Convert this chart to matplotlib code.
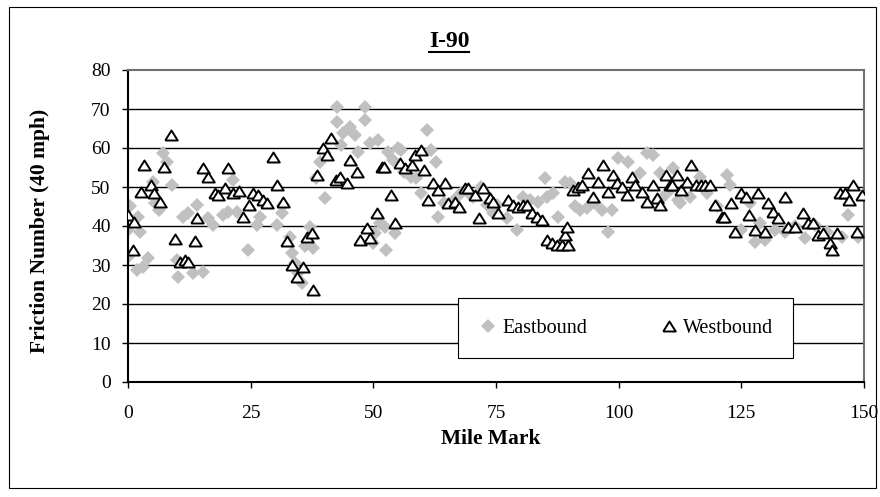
import matplotlib.pyplot as plt
from matplotlib.patches import Rectangle

# Eastbound (gray diamonds): mile mark, friction number
east_mile = [0, 0, 0.4, 1.8, 2, 2.4, 3, 4.1, 5.1, 5.5, 6.3, 7.1, 7.9, 9, 10, 10.2, 11.2, 12.2, 13.2, 14.1,
             15.3, 16.3, 17.3, 19.4, 20.4, 21.4, 22.2, 24.5, 26.3, 26.9, 30.4, 31.4, 31.6, 33, 33.4, 34, 34.6,
             35.5, 36.1, 37.1, 37.7, 38.3, 39.1, 40.1, 42.6, 42.6, 43.4, 43.8, 45.2, 46.3, 46.9, 48.3, 48.3,
             49.3, 49.9, 50.3, 50.9, 51.4, 52.4, 52.6, 53, 54, 54.4, 55, 55.6, 56.2, 57.7, 58.7, 59.7, 61,
             61.8, 62.8, 63.2, 64.4, 66.4, 67.9, 69.3, 70.3, 71.9, 73.2, 74.4, 75.2, 77.2, 79.3, 80.5, 81.9,
             83.6, 85, 85.4, 86.6, 87.6, 89.1, 90.1, 91.1, 92.1, 93.5, 95.2, 96.6, 97.8, 98.6, 99.9, 101.9,
             104.3, 105.8, 107, 108.5, 109, 110.5, 111, 112, 112.5, 114.5, 116.6, 118, 120, 122, 122.7, 125,
             126.7, 127.8, 128.8, 129.8, 131.9, 133.9, 136, 138, 140, 142.4, 145.5, 146.7, 148.8]
east_val = [32, 39, 45, 28.7, 42.3, 38.5, 29.5, 31.8, 51.3, 46, 44, 58.7, 56.4, 50.5, 31.3, 27, 42.3, 43.3, 28, 45.4,
            28.2, 42, 40.3, 42.8, 43.6, 51.8, 43.6, 33.8, 40.3, 42.3, 40.3, 43.3, 45.4, 37.2, 33, 30.5, 28,
            25.4, 35, 39.7, 34.4, 52.3, 56.4, 47.2, 70.4, 66.7, 60.8, 63.8, 65.4, 63.3, 59, 70.4, 67.2,
            61.3, 35.6, 38.2, 62, 40.8, 39.7, 33.8, 59, 56.9, 38.2, 60, 59.5, 53.8, 52.6, 52.3, 48.5, 64.6,
            59.5, 56.4, 42.3, 45.9, 46.7, 48.5, 48.7, 47.4, 50, 45.4, 43.3, 45.4, 42, 39, 47.4, 46.7,
            46.2, 52.3, 47.4, 48.5, 42.3, 51.3, 51, 45, 44.1, 44.6, 45.9, 44.1, 38.5, 44.1, 57.4, 56.4,
            53.6, 58.7, 58.2, 53.6, 47.4, 49.2, 54.9, 46.7, 46, 47.4, 52.6, 48.5, 45, 53, 50.5, 39,
            46, 36, 40.8, 36.4, 39, 38.5, 40, 37, 40.3, 38.5, 37.2, 42.8, 37.2]

# Westbound (open triangles)
west_mile = [0, 1, 1.2, 2.6, 3.3, 4.7, 5.3, 6.5, 7.3, 8.8, 9.6, 10.6, 11.6, 12.2, 13.7, 14, 15.3, 16.3, 17.7,
             18.3, 19.8, 20.4, 21.4, 22.6, 23.4, 24.7, 25.5, 26.5, 27.5, 28.3, 29.5, 30.4, 31.6, 32.4, 33.4,
             34.4, 35.7, 36.5, 37.5, 37.7, 38.5, 39.7, 40.5, 41.3, 42.4, 43.2, 44.6, 45.2, 46.6, 47.3, 48.7,
             49.3, 50.7, 51.8, 52.2, 53.6, 54.4, 55.4, 56.4, 57.9, 58.5, 59.7, 60.4, 61.2, 62.2, 63.2, 64.6,
             65.2, 66.6, 67.5, 68.7, 69.3, 70.7, 71.5, 72.4, 73.8, 74.4, 75.4, 77.4, 78.5, 79.5, 80.5, 81.3,
             82.3, 83.3, 84.4, 85.4, 86.4, 87.4, 88.4, 89.1, 89.4, 89.7, 90.7, 91.7, 92.5, 93.7, 94.8, 95.8,
             96.8, 97.8, 98.8, 99.7, 100.7, 101.7, 102.7, 103.4, 104.7, 105.8, 107, 107.8, 108.5, 109.7, 110.5,
             110.9, 111.9, 112.7, 113.9, 114.7, 115.7, 116.7, 117.6, 118.6, 119.6, 121, 121.4, 122.9, 123.7,
             124.9, 125.9, 126.6, 127.8, 128.4, 129.8, 130.4, 131.4, 132.5, 133.9, 134.5, 135.9, 137.6, 138.6,
             139.6, 140.6, 141.6, 143, 143.4, 144.5, 145.1, 146.1, 146.9, 147.7, 148.6, 149.6]
west_val = [42.8, 33.8, 41, 48.7, 55.6, 50.5, 48.5, 46.2, 55.1, 63.3, 36.7, 30.8, 31.3, 30.8, 36.2, 42, 54.9, 52.6, 48.5,
            48, 49.7, 54.9, 48.5, 49, 42.3, 45.4, 48.5, 48, 46.7, 45.9, 57.7, 50.5, 46.2, 36.2, 30,
            26.9, 29.5, 37.2, 38.2, 23.6, 53, 60, 58.2, 62.6, 51.8, 52.6, 51, 56.9, 53.8, 36.4, 39.5,
            36.9, 43.3, 55.1, 55.1, 48, 40.8, 56.1, 54.9, 55.6, 58.2, 59.5, 54.4, 46.7, 51, 49.2, 51,
            45.9, 46.2, 44.9, 49.7, 49.7, 48, 42, 49.7, 47.2, 46.2, 43.3, 46.7, 45.4, 44.9, 45.4, 45.4,
            43.3, 42.3, 41.5, 36.4, 35.6, 35.1, 35.1, 37.7, 39.7, 35.1, 49.2, 50, 50.5, 53.6, 47.4, 51.3,
            55.6, 48.7, 53, 51, 50, 48, 52.6, 50.5, 48.7, 46.2, 50.5, 47.2, 45.4, 53, 50.5,
            50.5, 53, 49.2, 51.3, 55.6, 50.5, 50.5, 50.5, 50.5, 45.4, 42.3, 42.3, 46, 38.5,
            48.5, 47.4, 42.8, 39, 48.5, 38.5, 46, 43.5, 42, 47.4, 39.7, 39.7, 43.3, 40.8,
            40.8, 37.7, 38.2, 35.6, 33.8, 38.2, 48.5, 48.5, 46.7, 50.5, 38.5, 48]

x_ticks = [0, 25, 50, 75, 100, 125, 150]
y_ticks = [0, 10, 20, 30, 40, 50, 60, 70, 80]

plt.rcParams['font.family'] = ['Liberation Serif', 'DejaVu Serif']

# triangle a bit wider than tall, like the Excel marker
tri = [(-1, -0.8), (1, -0.8), (0, 0.8), (-1, -0.8)]

fig = plt.figure(figsize=(8.8, 4.97), dpi=100)
# outer chart border
fig.patches.append(Rectangle((9 / 880, 1 - 488 / 497), 867 / 880, 481 / 497, transform=fig.transFigure,
                             fill=False, edgecolor='black', linewidth=0.8))

ax = fig.add_axes([128 / 880, 1 - 382 / 497, 736 / 880, 312 / 497])
for yv in y_ticks[1:-1]:
    ax.axhline(yv, color='black', linewidth=1.0, zorder=1)

ax.plot(east_mile, east_val, linestyle='none', marker='D', markersize=6.8, color='#c0c0c0',
        markeredgewidth=0, label='Eastbound', zorder=2)
ax.plot(west_mile, west_val, linestyle='none', marker=tri, markersize=9, markerfacecolor='white',
        markeredgecolor='black', markeredgewidth=1.4, label='Westbound', zorder=3)

ax.set_xlim(0, 150)
ax.set_ylim(0, 80)
ax.set_xticks(x_ticks)
ax.set_yticks(y_ticks)
ax.tick_params(labelsize=14, direction='out', length=4.5, width=1, colors='black', pad=8)
ax.tick_params(axis='x', pad=12)

ax.spines['left'].set_color('black')
ax.spines['bottom'].set_color('black')
ax.spines['left'].set_linewidth(1.5)
ax.spines['bottom'].set_linewidth(1.5)
ax.spines['top'].set_color('#707070')
ax.spines['right'].set_color('#707070')
ax.spines['top'].set_linewidth(1.5)
ax.spines['right'].set_linewidth(1.5)

ax.set_xlabel('Mile Mark', fontsize=15.5, fontweight='bold')
ax.xaxis.set_label_coords(0.493, -0.15)
ax.set_ylabel('Friction Number (40 mph)', fontsize=15.5, fontweight='bold')
ax.yaxis.set_label_coords(-0.106, 0.484)

fig.text(449 / 880, 1 - 47 / 497, 'I-90', ha='center', va='baseline', fontsize=17, fontweight='bold')
# underline under the title
fig.add_artist(plt.Line2D([429 / 880, 469 / 880], [1 - 52 / 497, 1 - 52 / 497], color='black', linewidth=1.5))

leg = ax.legend(loc='center', ncol=2, bbox_to_anchor=(0.4484, 0.073, 0.4552, 0.2), mode='expand',
                borderaxespad=0, fontsize=14.5, frameon=True, fancybox=False, framealpha=1, edgecolor='black',
                borderpad=1.0, handletextpad=0.2, columnspacing=1.0, handlelength=1.0)
leg.get_frame().set_linewidth(0.8)

plt.savefig('out.png', dpi=100)
